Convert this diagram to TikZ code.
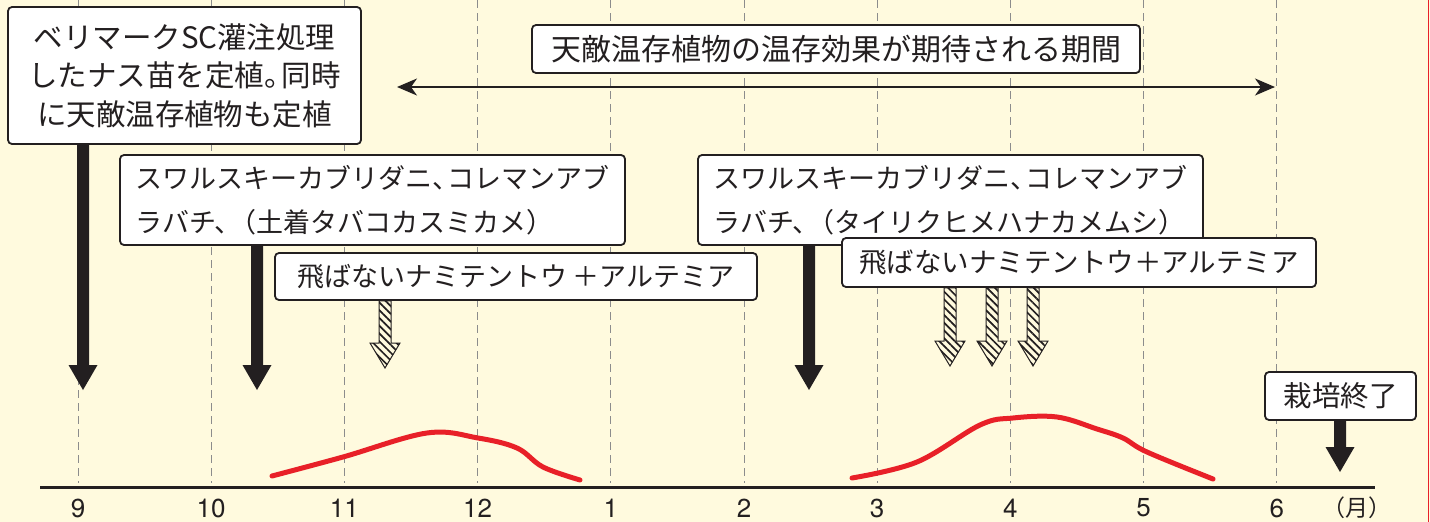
\documentclass[tikz,border=0pt]{standalone}
\usepackage{fontspec}
\setmainfont{Noto Sans CJK JP}
\newfontfamily\numfont{TeX Gyre Heros}
\usetikzlibrary{arrows.meta,patterns.meta,calc}
\definecolor{bg}{RGB}{255,250,222}
\definecolor{ink}{RGB}{35,31,32}
\definecolor{curvered}{RGB}{232,32,40}
\definecolor{gridgray}{RGB}{140,140,140}
\newcommand\blackarr[2]{\fill[ink] ($(#1)+(-6,0)$) -- ($(#2)+(-6,-25)$) -- ($(#2)+(-14.5,-25)$) -- (#2) -- ($(#2)+(14.5,-25)$) -- ($(#2)+(6,-25)$) -- ($(#1)+(6,0)$) -- cycle;}
\newcommand\hatcharr[2]{\draw[hatchstyle] ($(#1)+(-6,0)$) -- ($(#2)+(-6,-25)$) -- ($(#2)+(-15,-25)$) -- (#2) -- ($(#2)+(15,-25)$) -- ($(#2)+(6,-25)$) -- ($(#1)+(6,0)$) -- cycle;}
\newcommand\tc{、\kern-0.45em}
\begin{document}
\begin{tikzpicture}[x=1pt,y=-1pt,
  jbox/.style={draw=ink, line width=1.8pt, fill=white, rounded corners=4pt, inner sep=0pt, text=ink, align=center},
  gridline/.style={gridgray, line width=1pt, dash pattern=on 8pt off 5pt},
  axisline/.style={ink, line width=3pt},
  redcurve/.style={curvered, line width=5pt, line cap=round, line join=round},
  hatchstyle/.style={draw=ink, line width=1pt, pattern={Lines[angle=-45,distance=5.5pt,line width=1.7pt]}, pattern color=ink},
  monthlbl/.style={font=\numfont\fontsize{26}{26}\selectfont, text=ink, inner sep=0pt},
  dblarrow/.style={ink, line width=1.4pt, {Stealth[length=20pt,width=17pt,inset=6pt]}-{Stealth[length=20pt,width=17pt,inset=6pt]}}
]
\fill[bg] (0,0) rectangle (1430,522);
\useasboundingbox (0,0) rectangle (1430,522);
\draw[curvered, line width=1pt] (1428,0) -- (1428,522);

% grid
\foreach \i in {0,...,9} {
  \draw[gridline] ({78+133.2*\i},0) -- ({78+133.2*\i},483);
}
% axis
\draw[axisline] (40,487) -- (1375,487);
\foreach \m [count=\i from 0] in {9,10,11,12,1,2,3,4,5,6} {
  \node[monthlbl] (m\i) at ({78+133.2*\i},508) {\m};
}
\node[font=\fontsize{23}{23}\selectfont, text=ink, inner sep=0pt] (unit) at (1357,508) {（月）};

% red curves
\draw[redcurve] plot[smooth, tension=0.6] coordinates {(272,476) (343,457) (427,433) (478,438) (517,448) (543,467) (580,480)};
\draw[redcurve] plot[smooth, tension=0.6] coordinates {(852,478) (917,462) (980,425) (1013,418) (1057,417) (1097,429) (1123,438) (1147,452) (1213,479)};

% double arrow
\coordinate (dl) at (397,87);
\coordinate (dr) at (1275,87);
\draw[dblarrow] (dl) -- (dr);

% boxes
\node[jbox, minimum width=353pt, minimum height=137pt, font=\fontsize{29.5}{38.5}\selectfont] (b1) at (184.5,75.5) {ベリマークSC灌注処理\\したナス苗を定植。\kern-0.4em 同時\\に天敵温存植物も定植};
\node[jbox, minimum width=608pt, minimum height=48pt, font=\fontsize{30}{30}\selectfont] (btop) at (836,49) {天敵温存植物の温存効果が期待される期間};
\node[jbox, minimum width=505pt, minimum height=90pt, align=left, font=\fontsize{27}{44}\selectfont] (b2) at (372.5,200) {スワルスキーカブリダニ\tc コレマンアブ\\ラバチ\tc （土着タバコカスミカメ）};
\node[jbox, minimum width=482pt, minimum height=47pt, font=\fontsize{27}{27}\selectfont] (b3) at (516,276.5) {飛ばないナミテントウ\,＋アルテミア};
\node[jbox, minimum width=505pt, minimum height=90pt, align=left, font=\fontsize{27}{44}\selectfont] (b4) at (950.5,200) {スワルスキーカブリダニ\tc コレマンアブ\\ラバチ\tc （タイリクヒメハナカメムシ）};
\node[jbox, minimum width=474pt, minimum height=49pt, font=\fontsize{27.5}{27.5}\selectfont] (b5) at (1079,262.5) {飛ばないナミテントウ＋アルテミア};
\node[jbox, minimum width=151pt, minimum height=48pt, font=\fontsize{28.5}{28.5}\selectfont] (bend) at (1340.5,396) {栽培終了};

% black arrows
\coordinate (e1) at (83,390);
\coordinate (t1) at (b1.south -| e1);
\blackarr{t1}{e1}
\coordinate (e2) at (257,390);
\coordinate (t2) at (b2.south -| e2);
\blackarr{t2}{e2}
\coordinate (e4) at (809,390);
\coordinate (t4) at (b4.south -| e4);
\blackarr{t4}{e4}
\coordinate (ee) at (1340,472);
\coordinate (te) at (bend.south -| ee);
\blackarr{te}{ee}

% hatched arrows
\coordinate (h1) at (385,368);
\coordinate (g1) at (b3.south -| h1);
\hatcharr{g1}{h1}
\coordinate (h2) at (950,366);
\coordinate (g2) at (b5.south -| h2);
\hatcharr{g2}{h2}
\coordinate (h3) at (992,366);
\coordinate (g3) at (b5.south -| h3);
\hatcharr{g3}{h3}
\coordinate (h4) at (1033,366);
\coordinate (g4) at (b5.south -| h4);
\hatcharr{g4}{h4}
\end{tikzpicture}
\end{document}
